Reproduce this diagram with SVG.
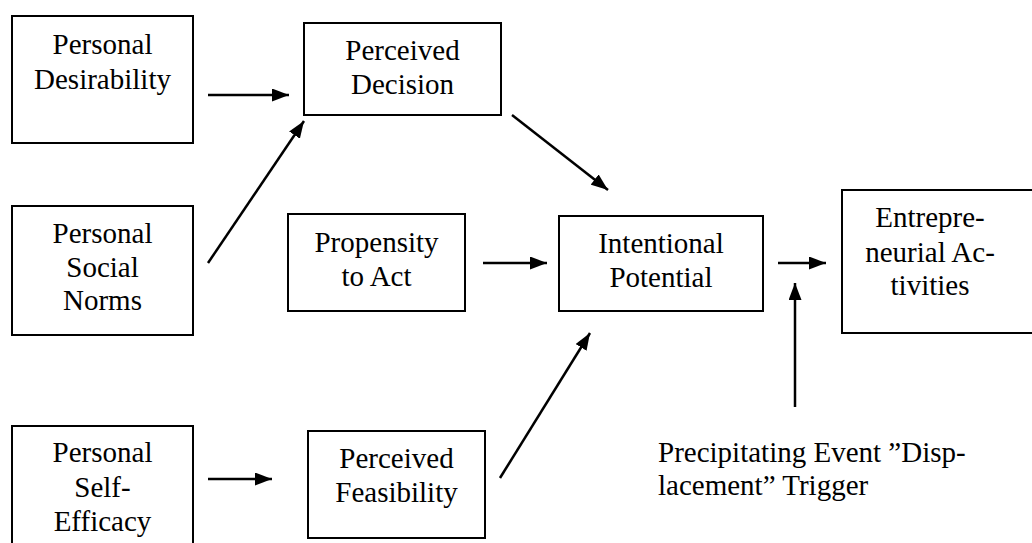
<svg xmlns="http://www.w3.org/2000/svg" width="1032" height="543" viewBox="0 0 1032 543">
<style>
.box{fill:#fff;stroke:#000;stroke-width:2}
.t{text-anchor:middle}
.c{stroke:#000;stroke-width:2.5;fill:none;marker-end:url(#ah)}
</style>
<defs>
<marker id="ah" markerUnits="userSpaceOnUse" markerWidth="17" markerHeight="13" refX="17" refY="6.5" orient="auto" viewBox="0 0 17 13">
<path d="M0,0 L17,6.5 L0,13 z" fill="#000"/>
</marker>
</defs>
<rect width="1032" height="543" fill="#fff"/>
<g font-family="Liberation Serif, DejaVu Serif, serif" font-size="29" fill="#000">
<g id="n-desirability">
<rect class="box" x="12" y="16" width="181" height="127"/>
<text class="t" x="102.5" y="54">Personal</text>
<text class="t" x="102.5" y="89">Desirability</text>
</g>
<g id="n-decision">
<rect class="box" x="304" y="23" width="197" height="92"/>
<text class="t" x="402.5" y="60">Perceived</text>
<text class="t" x="402.5" y="94">Decision</text>
</g>
<g id="n-social">
<rect class="box" x="12" y="206" width="181" height="129"/>
<text class="t" x="102.5" y="243">Personal</text>
<text class="t" x="102.5" y="277">Social</text>
<text class="t" x="102.5" y="310">Norms</text>
</g>
<g id="n-propensity">
<rect class="box" x="288" y="214" width="177" height="97"/>
<text class="t" x="376.5" y="252">Propensity</text>
<text class="t" x="376.5" y="286">to Act</text>
</g>
<g id="n-intentional">
<rect class="box" x="559" y="216" width="204" height="95"/>
<text class="t" x="661" y="253">Intentional</text>
<text class="t" x="661" y="287">Potential</text>
</g>
<g id="n-activities">
<rect class="box" x="842" y="190" width="200" height="143"/>
<text class="t" x="930" y="227">Entrepre-</text>
<text class="t" x="930" y="262">neurial Ac-</text>
<text class="t" x="930" y="295">tivities</text>
</g>
<g id="n-selfefficacy">
<rect class="box" x="12" y="426" width="181" height="130"/>
<text class="t" x="102.5" y="462">Personal</text>
<text class="t" x="102.5" y="497">Self-</text>
<text class="t" x="102.5" y="531">Efficacy</text>
</g>
<g id="n-feasibility">
<rect class="box" x="308" y="431" width="177" height="107"/>
<text class="t" x="396.5" y="468">Perceived</text>
<text class="t" x="396.5" y="502">Feasibility</text>
</g>
<g id="n-trigger">
<text x="658" y="462">Precipitating Event ”Disp-</text>
<text x="658" y="495">lacement” Trigger</text>
</g>
</g>
<g id="connectors">
<line class="c" x1="208" y1="95" x2="289" y2="95"/>
<line class="c" x1="208" y1="263" x2="304" y2="121"/>
<line class="c" x1="512" y1="115" x2="608" y2="190"/>
<line class="c" x1="483" y1="263" x2="547" y2="263"/>
<line class="c" x1="778" y1="263" x2="826" y2="263"/>
<line class="c" x1="795" y1="407" x2="795" y2="283"/>
<line class="c" x1="208" y1="479" x2="272" y2="479"/>
<line class="c" x1="500" y1="478" x2="590" y2="333"/>
</g>
</svg>
